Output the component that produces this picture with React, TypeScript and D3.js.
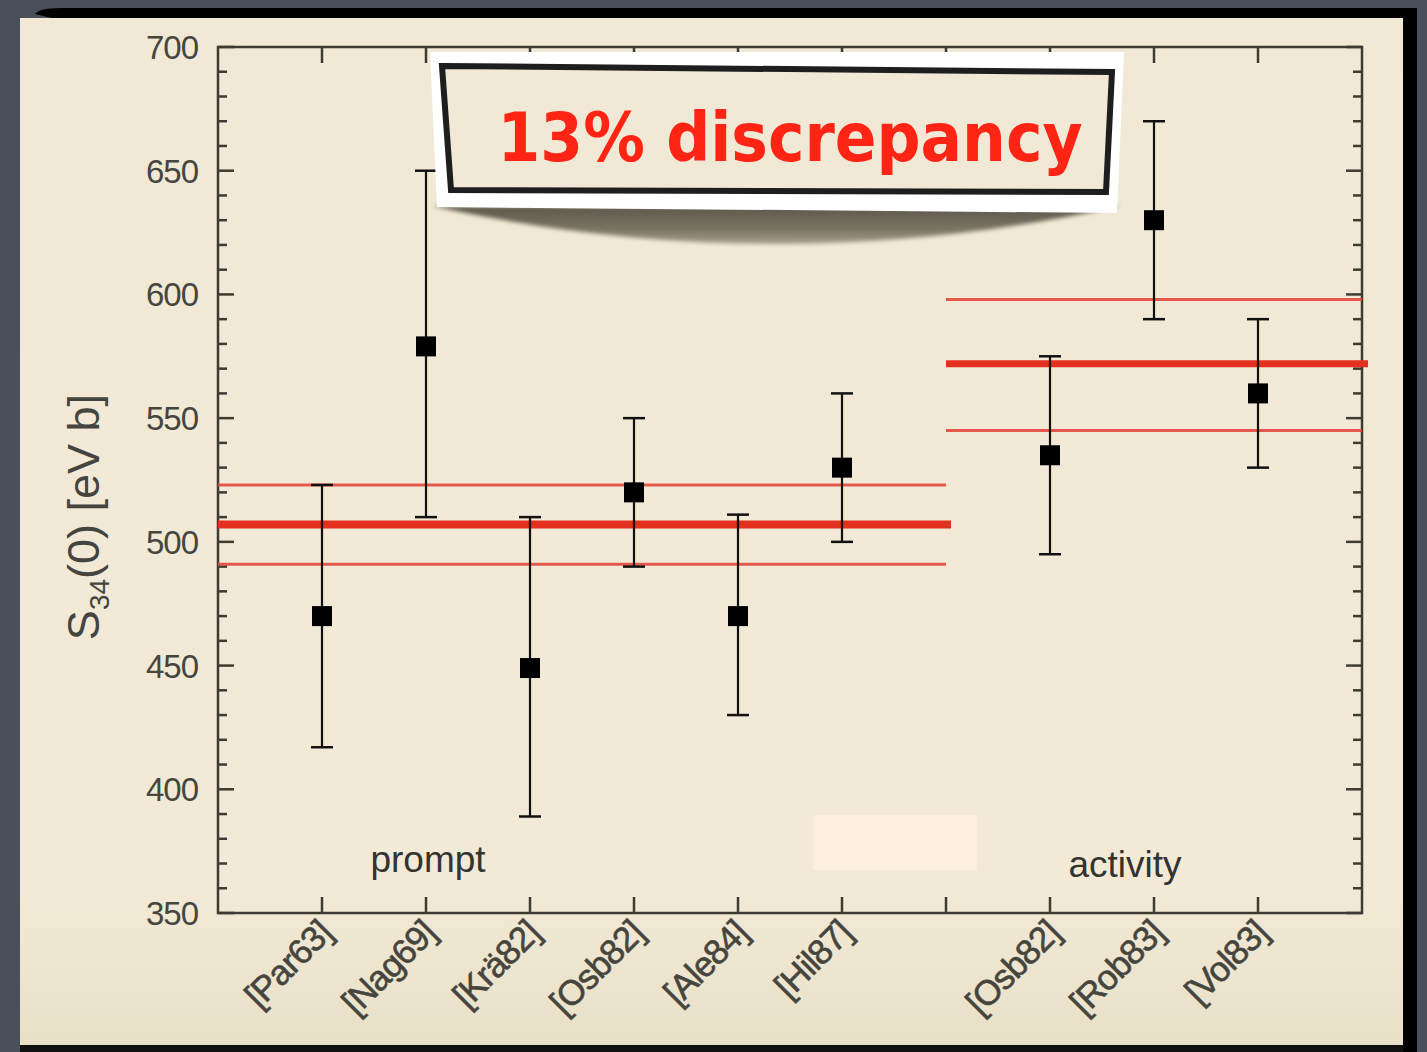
import React from "react";
import * as d3 from "d3";

// reference labels, one slot left empty between the two groups
const labels = ["[Par63]", "[Nag69]", "[Krä82]", "[Osb82]", "[Ale84]", "[Hil87]", "", "[Osb82]", "[Rob83]", "[Vol83]"];
const values = [470, 579, 449, 520, 470, 530, null, 535, 630, 560];
const lower = [417, 510, 389, 490, 430, 500, null, 495, 590, 530];
const upper = [523, 650, 510, 550, 511, 560, null, 575, 670, 590];

const promptMean = 507;
const promptBand = [491, 523];
const activityMean = 572;
const activityBand = [545, 598];

const yTicks = [350, 400, 450, 500, 550, 600, 650, 700];

const W = 1427;
const H = 1052;
const left = 218, right = 1362, top = 47, bottom = 913;

export default function App() {
  const x = d3.scaleLinear().domain([0, 11]).range([left, right]);
  const y = d3.scaleLinear().domain([350, 700]).range([bottom, top]);
  const minor = d3.range(350, 701, 10).filter(v => v % 50 !== 0);
  const axisColor = "#3d3b32";
  const font = "'Liberation Sans', Arial, sans-serif";
  const sep = x(7);

  return (
    <svg width={W} height={H} style={{ position: "absolute", left: 0, top: 0 }}>
      <defs>
        <linearGradient id="slide" x1="0" y1="0" x2="0" y2="1">
          <stop offset="0" stopColor="#f1e9d5" />
          <stop offset="0.85" stopColor="#f2ead6" />
          <stop offset="1" stopColor="#e9e0c8" />
        </linearGradient>
        <linearGradient id="shadow" x1="0" y1="0" x2="0" y2="1">
          <stop offset="0" stopColor="#5e584c" />
          <stop offset="0.6" stopColor="#7a7363" />
          <stop offset="1" stopColor="#a79f8a" />
        </linearGradient>
        <filter id="blur" x="-10%" y="-50%" width="120%" height="200%">
          <feGaussianBlur stdDeviation="2" />
        </filter>
      </defs>

      {/* slide background */}
      <rect x={0} y={0} width={W} height={H} fill="#4b4f5b" />
      <rect x={1401} y={8} width={16} height={H} fill="#000" />
      <path d="M35,14 Q40,8 60,8 L1417,8 L1417,20 L60,20 Z" fill="#000" />
      <rect x={20} y={18} width={1383} height={1028} fill="url(#slide)" />
      <rect x={20} y={1045} width={1383} height={7} fill="#111" />
      <rect x={813} y={815} width={164} height={55} fill="#fcefe1" />

      {/* frame */}
      <rect x={left} y={top} width={right - left} height={bottom - top} fill="none" stroke={axisColor} strokeWidth={2.5} />

      {/* y ticks, both sides */}
      {yTicks.map(v => (
        <g key={"y" + v}>
          <line x1={left} x2={left + 16} y1={y(v)} y2={y(v)} stroke={axisColor} strokeWidth={2.5} />
          <line x1={right} x2={right - 16} y1={y(v)} y2={y(v)} stroke={axisColor} strokeWidth={2.5} />
          <text x={198} y={y(v) + 12} textAnchor="end" fontFamily={font} fontSize={33} letterSpacing={-1} fill="#464640">{v}</text>
        </g>
      ))}
      {minor.map(v => (
        <g key={"m" + v}>
          <line x1={left} x2={left + 9} y1={y(v)} y2={y(v)} stroke={axisColor} strokeWidth={2.5} />
          <line x1={right} x2={right - 9} y1={y(v)} y2={y(v)} stroke={axisColor} strokeWidth={2.5} />
        </g>
      ))}

      {/* x ticks, bottom and top */}
      {labels.map((l, i) => (
        <g key={"x" + i}>
          <line x1={x(i + 1)} x2={x(i + 1)} y1={bottom} y2={bottom - 16} stroke={axisColor} strokeWidth={2.5} />
          <line x1={x(i + 1)} x2={x(i + 1)} y1={top} y2={top + 16} stroke={axisColor} strokeWidth={2.5} />
          {l && (
            <text
              transform={`translate(${x(i + 1) + 12},${bottom + 22}) rotate(-45)`}
              textAnchor="end"
              fontFamily={font}
              fontSize={35}
              letterSpacing={-1}
              fill="#45453e"
              stroke="#45453e"
              strokeWidth={0.6}
            >{l}</text>
          )}
        </g>
      ))}

      {/* mean lines */}
      {promptBand.map(v => (
        <line key={"pb" + v} x1={left} x2={sep} y1={y(v)} y2={y(v)} stroke="#e5483c" strokeWidth={3} opacity={0.9} />
      ))}
      <line x1={left} x2={sep + 5} y1={y(promptMean)} y2={y(promptMean)} stroke="#e2321f" strokeWidth={8} />
      {activityBand.map(v => (
        <line key={"ab" + v} x1={sep} x2={right} y1={y(v)} y2={y(v)} stroke="#e5483c" strokeWidth={3} opacity={0.9} />
      ))}
      <line x1={sep} x2={right + 6} y1={y(activityMean)} y2={y(activityMean)} stroke="#e2321f" strokeWidth={7} />

      {/* data points */}
      {values.map((v, i) => v == null ? null : (
        <g key={"p" + i}>
          <line x1={x(i + 1)} x2={x(i + 1)} y1={y(lower[i] as number)} y2={y(upper[i] as number)} stroke="#111" strokeWidth={2.2} />
          <line x1={x(i + 1) - 11} x2={x(i + 1) + 11} y1={y(lower[i] as number)} y2={y(lower[i] as number)} stroke="#111" strokeWidth={2.5} />
          <line x1={x(i + 1) - 11} x2={x(i + 1) + 11} y1={y(upper[i] as number)} y2={y(upper[i] as number)} stroke="#111" strokeWidth={2.5} />
          <rect x={x(i + 1) - 10} y={y(v) - 10} width={20} height={20} fill="#000" />
        </g>
      ))}

      {/* group labels */}
      <text x={428} y={872} textAnchor="middle" fontFamily={font} fontSize={37} fill="#333330">prompt</text>
      <text x={1125} y={877} textAnchor="middle" fontFamily={font} fontSize={37} fill="#333330">activity</text>

      {/* y label */}
      <text transform="translate(99,517) rotate(-90)" textAnchor="middle" fontFamily={font} fontSize={45} fill="#444440">
        S<tspan fontSize={28} dy={10}>34</tspan><tspan dy={-10}>(0) [eV b]</tspan>
      </text>

      {/* callout box */}
      <path d="M432,206 L1120,206 Q776,282 432,206 Z" fill="url(#shadow)" filter="url(#blur)" />
      <path d="M430,52 L1124,52 L1117,213 L437,207 Z" fill="#ffffff" />
      <path d="M442,66 L1112,72 L1106,192 L451,190 Z" fill="#f1e9d5" stroke="#1e1e1e" strokeWidth={6} />
      <text x={790} y={161} textAnchor="middle" fontFamily="'DejaVu Sans', sans-serif" fontWeight="bold" fontSize={68} fill="#ff2414" textLength={585} lengthAdjust="spacingAndGlyphs">13% discrepancy</text>
    </svg>
  );
}
